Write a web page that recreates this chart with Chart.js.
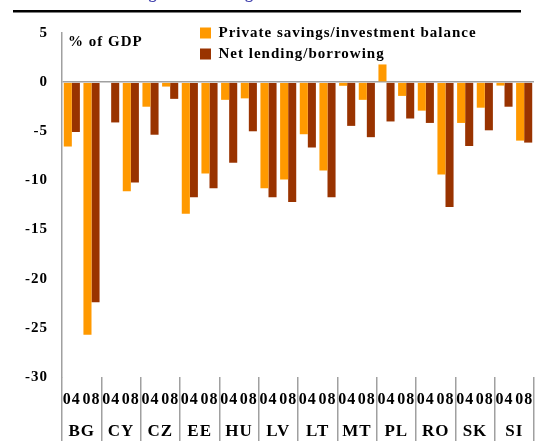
<!DOCTYPE html>
<html>
<head>
<meta charset="utf-8">
<script src="https://cdn.jsdelivr.net/npm/chart.js@4"></script>
<style>
	html, body { margin: 0; padding: 0; background: #fff; }
	canvas { display: block; }
</style>
</head>
<body>
<canvas id="chart" width="539" height="441"></canvas>
<script>
// two bars per year, two years per country
const countries = ["BG", "CY", "CZ", "EE", "HU", "LV", "LT", "MT", "PL", "RO", "SK", "SI"];
const years = ["04", "08"];
const seriesNames = ["Private savings/investment balance", "Net lending/borrowing"];
const privateBalance = [
	-6.55, -25.7, null, -11.1, -2.5, -0.45, -13.4, -9.3, -1.8, -1.65, -10.8, -9.9,
	-5.3, -9.0, -0.37, -1.8, 1.8, -1.4, -2.9, -9.4, -4.15, -2.6, -0.35, -5.95
];
const netLending = [
	-5.07, -22.4, -4.1, -10.2, -5.35, -1.7, -11.7, -10.8, -8.2, -5.0, -11.7, -12.2,
	-6.65, -11.7, -4.45, -5.6, -4.0, -3.7, -4.15, -12.7, -6.5, -4.9, -2.5, -6.15
];
const yTicks = [5, 0, -5, -10, -15, -20, -25, -30];

const labels = [];
countries.forEach(() => years.forEach((y) => labels.push(y)));

const serif = "'Liberation Serif', 'Times New Roman', serif";
const gray = "#a0a0a0";

const decor = {
	id: "decor",
	beforeUpdate(chart) {
		chart.ctx.letterSpacing = "1px";
	},
	afterLayout(chart) {
		// legend sits over the top right of the plot
		chart.legend.left = 194;
		chart.legend.top = 19.5;
	},
	beforeDraw(chart) {
		const ctx = chart.ctx;
		ctx.save();
		ctx.fillStyle = "#fff";
		ctx.fillRect(0, 0, chart.width, chart.height);
		ctx.restore();
		ctx.letterSpacing = "1px";
	},
	afterDraw(chart) {
		const ctx = chart.ctx;
		ctx.save();
		// title, cut off above the page: only the descenders show
		ctx.fillStyle = "#4848b0";
		ctx.font = "bold 16px " + serif;
		ctx.textAlign = "center";
		ctx.textBaseline = "alphabetic";
		ctx.fillText("Saving and lending balances in the NMS", 262, -2.5);
		ctx.fillStyle = "#000";
		ctx.fillRect(13, 10, 508, 2.5);
		ctx.font = "bold 15px " + serif;
		ctx.textAlign = "left";
		ctx.fillText("% of GDP", 68, 46);
		ctx.restore();
	}
};

new Chart(document.getElementById("chart"), {
	type: "bar",
	data: {
		labels: labels,
		datasets: [
			{
				label: seriesNames[0],
				data: privateBalance,
				backgroundColor: "#ff9900",
				categoryPercentage: 0.82,
				barPercentage: 1.0
			},
			{
				label: seriesNames[1],
				data: netLending,
				backgroundColor: "#993300",
				categoryPercentage: 0.82,
				barPercentage: 1.0
			}
		]
	},
	options: {
		responsive: false,
		animation: false,
		layout: { padding: { top: 33, right: 5, bottom: 0, left: 0 } },
		plugins: {
			legend: {
				position: "chartArea",
				align: "start",
				labels: {
					boxWidth: 11,
					boxHeight: 11,
					padding: 6,
					color: "#000",
					font: { family: serif, size: 15, weight: "bold" }
				}
			},
			tooltip: { enabled: false }
		},
		scales: {
			y: {
				min: -30,
				max: 5,
				afterFit(s) { s.width = 62; },
				afterBuildTicks(s) { s.ticks = yTicks.map((v) => ({ value: v })); },
				border: { display: true, color: gray, width: 1.5 },
				grid: {
					drawTicks: false,
					color: (c) => (c.tick && c.tick.value === 0 ? gray : "transparent"),
					lineWidth: 1.5
				},
				ticks: {
					padding: 14,
					color: "#000",
					font: { family: serif, size: 15, weight: "bold" }
				}
			},
			x: {
				position: "bottom",
				afterFit(s) { s.height = 33; },
				border: { display: false },
				grid: {
					offset: true,
					drawOnChartArea: false,
					tickLength: 64,
					lineWidth: 1.5,
					color: (c) => (c.index === undefined || c.index % 2 === 0 ? gray : "transparent")
				},
				ticks: {
					autoSkip: false,
					maxRotation: 0,
					padding: -51,
					color: "#000",
					font: { family: serif, size: 16, weight: "bold" }
				}
			},
			x2: {
				type: "category",
				position: "bottom",
				labels: countries,
				offset: true,
				afterFit(s) { s.height = 31; },
				border: { display: false },
				grid: { display: false, drawTicks: false },
				ticks: {
					autoSkip: false,
					maxRotation: 0,
					padding: 11,
					color: "#000",
					font: { family: serif, size: 17, weight: "bold" }
				}
			}
		}
	},
	plugins: [decor]
});
</script>
</body>
</html>
